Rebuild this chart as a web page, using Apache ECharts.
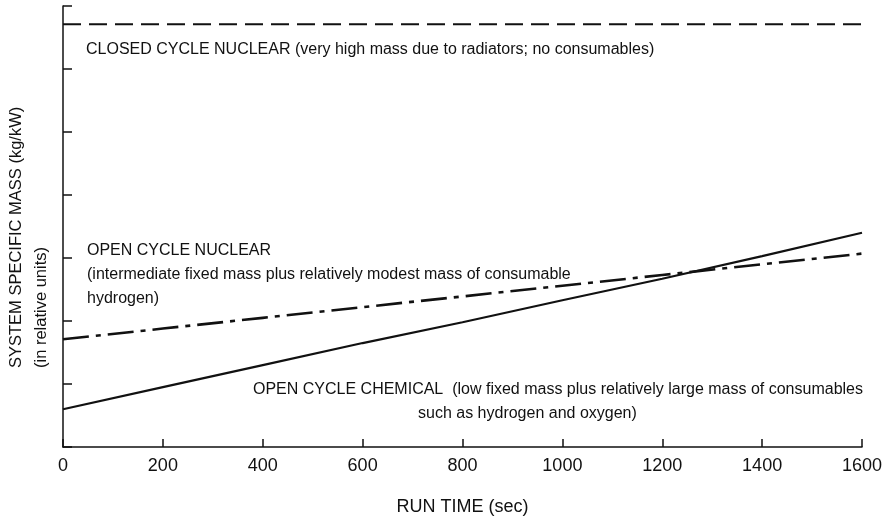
<!DOCTYPE html>
<html>
<head>
<meta charset="utf-8">
<script src="https://cdn.jsdelivr.net/npm/echarts@6/dist/echarts.min.js"></script>
<style>
html,body{margin:0;padding:0;background:#fff;}
#chart{width:887px;height:521px;}
</style>
</head>
<body>
<div id="chart"></div>
<script>
// ---- data ----
var runTimes = [0, 200, 400, 600, 800, 1000, 1200, 1400, 1600];
var closedCycleNuclear = [6.71, 6.71, 6.71, 6.71, 6.71, 6.71, 6.71, 6.71, 6.71];
var openCycleNuclear = [1.71, 1.88, 2.05, 2.22, 2.39, 2.56, 2.73, 2.90, 3.07];
var openCycleChemical = [0.60, 0.95, 1.30, 1.65, 1.98, 2.33, 2.67, 3.03, 3.40];
var xTicks = [0, 200, 400, 600, 800, 1000, 1200, 1400, 1600];

function pairs(xs, ys){ return xs.map(function(x,i){ return [x, ys[i]]; }); }

var FONT = '"Liberation Sans", Arial, Helvetica, sans-serif';
var INK = '#111';

var chart = echarts.init(document.getElementById('chart'), null, {renderer:'canvas'});

function txt(str, x, y, size, opts){
  opts = opts || {};
  return {
    type:'text', x:x, y:y, rotation: opts.rotation || 0, silent:true,
    style:{
      text:str, fill:INK, font: size + 'px ' + FONT,
      textAlign: opts.align || 'left', align: opts.align || 'left',
      textVerticalAlign:'middle', verticalAlign:'middle'
    }
  };
}

chart.setOption({
  animation:false,
  backgroundColor:'#fff',
  grid:{left:63, right:25, top:6, bottom:68, containLabel:false},
  xAxis:{
    type:'value', min:xTicks[0], max:xTicks[xTicks.length-1], interval:200,
    name:'RUN TIME (sec)', nameLocation:'middle', nameGap:51,
    nameTextStyle:{color:INK, fontSize:18, fontFamily:FONT},
    axisLine:{show:true, lineStyle:{color:INK, width:1.5}},
    axisTick:{show:true, inside:true, length:8, lineStyle:{color:INK, width:1.5}},
    axisLabel:{color:INK, fontSize:18, fontFamily:FONT, margin:10,
      formatter:function(v){ return String(v); }},
    splitLine:{show:false}
  },
  yAxis:{
    type:'value', min:0, max:7, interval:1,
    axisLine:{show:true, lineStyle:{color:INK, width:1.5}},
    axisTick:{show:true, inside:true, length:9, lineStyle:{color:INK, width:1.5}},
    axisLabel:{show:false},
    splitLine:{show:false}
  },
  series:[
    {
      name:'CLOSED CYCLE NUCLEAR', type:'line', data:pairs(runTimes, closedCycleNuclear),
      showSymbol:false, symbol:'none',
      lineStyle:{color:INK, width:2.2, type:[18,8]}
    },
    {
      name:'OPEN CYCLE NUCLEAR', type:'line', data:pairs(runTimes, openCycleNuclear),
      showSymbol:false, symbol:'none',
      lineStyle:{color:INK, width:2.6, type:[26,7,5,7]}
    },
    {
      name:'OPEN CYCLE CHEMICAL', type:'line', data:pairs(runTimes, openCycleChemical),
      showSymbol:false, symbol:'none',
      lineStyle:{color:INK, width:2.2}
    }
  ],
  graphic:[
    txt('CLOSED CYCLE NUCLEAR (very high mass due to radiators; no consumables)', 86, 50, 16),
    txt('OPEN CYCLE NUCLEAR', 87, 251, 16),
    txt('(intermediate fixed mass plus relatively modest mass of consumable', 87, 275, 16),
    txt('hydrogen)', 87, 299, 16),
    txt('OPEN CYCLE CHEMICAL  (low fixed mass plus relatively large mass of consumables', 253, 390, 16),
    txt('such as hydrogen and oxygen)', 418, 414, 16),
    txt('SYSTEM SPECIFIC MASS (kg/kW)', 16, 368, 16.5, {rotation:Math.PI/2}),
    txt('(in relative units)', 41, 368, 16.5, {rotation:Math.PI/2})
  ]
});
</script>
</body>
</html>
